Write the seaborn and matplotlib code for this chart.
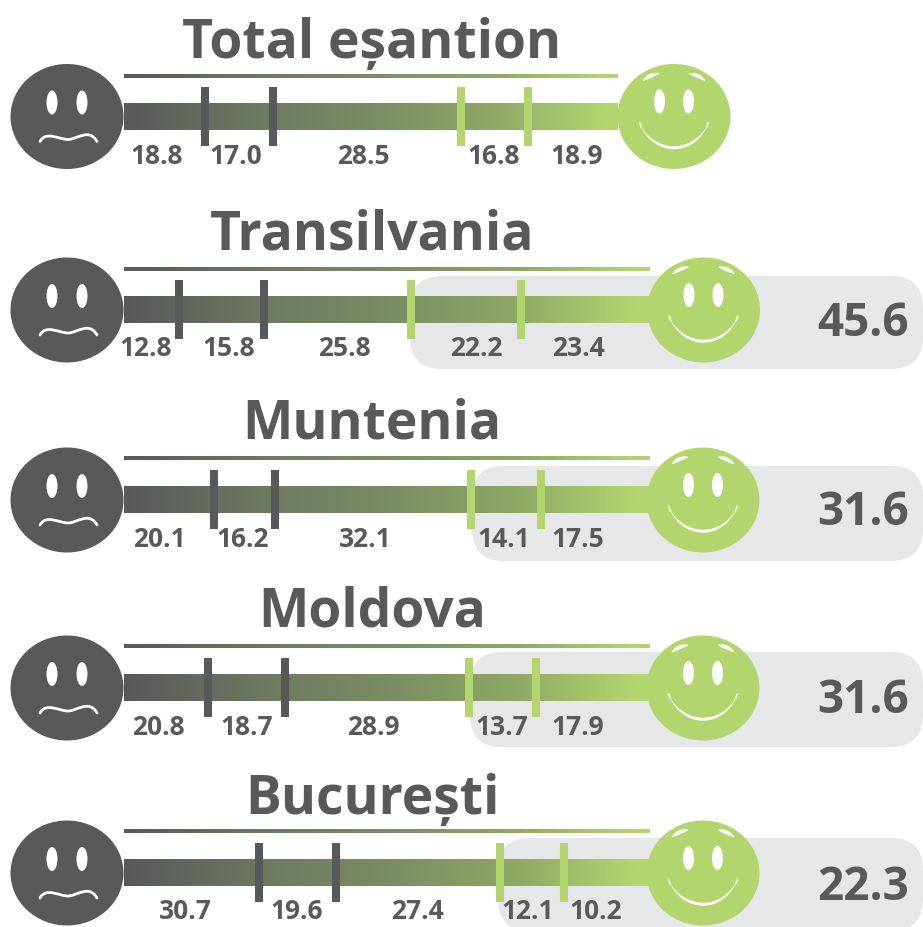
import numpy as np
import matplotlib
matplotlib.use("Agg")
import matplotlib.pyplot as plt
import seaborn as sns
from matplotlib.colors import LinearSegmentedColormap
from matplotlib.patches import Ellipse, FancyBboxPatch, PathPatch
from matplotlib.path import Path
from matplotlib.transforms import blended_transform_factory

# ---- data ----
regions = ["Total eșantion", "Transilvania", "Muntenia", "Moldova", "București"]
segment_values = [
    [18.8, 17.0, 28.5, 16.8, 18.9],
    [12.8, 15.8, 25.8, 22.2, 23.4],
    [20.1, 16.2, 32.1, 14.1, 17.5],
    [20.8, 18.7, 28.9, 13.7, 17.9],
    [30.7, 19.6, 27.4, 12.1, 10.2],
]
top_two_totals = [None, "45.6", "31.6", "31.6", "22.3"]
# Dividers and labels along each bar, on a 0-100 scale of the bar's length
divider_scale = [
    [16.4, 30.2, 68.2, 81.8],
    [10.5, 26.6, 54.6, 75.5],
    [17.1, 28.7, 66.0, 79.3],
    [16.0, 30.6, 65.6, 78.3],
    [25.7, 40.3, 71.5, 83.7],
]
label_scale = [
    [6.7, 22.7, 48.4, 74.9, 91.7],
    [4.2, 20.0, 41.8, 66.9, 86.3],
    [6.7, 22.6, 45.8, 72.2, 86.3],
    [6.5, 23.4, 47.3, 71.9, 86.3],
    [11.6, 32.9, 55.7, 76.8, 89.7],
]

# ---- layout in pixels of the 923x928 picture ----
W, H = 923, 928
BAR_LEFT = 124
bar_right = [618, 650, 650, 650, 650]
title_y = [44, 236, 425, 613, 800]
rule_y = [77, 270, 459, 647, 832]
bar_y = [117.5, 310.5, 500.5, 688.5, 873.5]
face_y = [117.5, 311, 501, 689, 874]
label_y = [156, 349, 540, 728, 912]
box_top = [None, 277, 467, 653, 839]
box_bottom = [None, 370, 562, 748, 932]
box_left = [None, 410, 472, 470, 498]
value_y = [None, 324, 513, 701, 888]
LEFT_FACE_X = 67
right_face_x = [674, 703.5, 703, 703, 703]
FACE_W, FACE_H = 113, 105
DIVIDER_H = 59
BAR_H = 27

DARK = "#58595B"
GREEN = "#B2D56E"
BOX = "#E6E7E8"
ramp = LinearSegmentedColormap.from_list(
    "ramp", [(0, DARK), (0.28, "#6E7B60"), (0.5, "#7A8C63"), (0.75, "#8EA965"), (0.97, GREEN), (1, GREEN)]
)
gradient = np.linspace(0, 1, 256).reshape(1, -1)

sns.set_theme(style="white")
plt.rcParams["font.family"] = ["Open Sans", "DejaVu Sans"]

fig = plt.figure(figsize=(W / 100, H / 100), dpi=100, facecolor="white")


def pixel_axes(zorder):
    a = fig.add_axes([0, 0, 1, 1], zorder=zorder)
    a.set_xlim(0, W)
    a.set_ylim(H, 0)
    a.axis("off")
    a.patch.set_alpha(0)
    return a


def row_axes(left, right, top, bottom, zorder=2):
    a = fig.add_axes([left / W, 1 - bottom / H, (right - left) / W, (bottom - top) / H], zorder=zorder)
    a.patch.set_alpha(0)
    return a


under = pixel_axes(1)
over = pixel_axes(3)


def sad_face(a, cx, cy):
    a.add_patch(Ellipse((cx, cy), FACE_W, FACE_H, fc=DARK, ec="none"))
    for dx in (-15, 15):
        a.add_patch(Ellipse((cx + dx, cy - 14), 11, 24, fc="white", ec="none"))
    verts = [(cx - 27, cy + 25), (cx - 21, cy + 14), (cx - 8, cy + 23), (cx + 1, cy + 23),
             (cx + 10, cy + 23), (cx + 22, cy + 11), (cx + 30, cy + 25)]
    codes = [Path.MOVETO] + [Path.CURVE4] * 6
    a.add_patch(PathPatch(Path(verts, codes), fc="none", ec="white", lw=2.0, capstyle="round"))


def happy_face(a, cx, cy):
    a.add_patch(Ellipse((cx, cy), FACE_W, FACE_H, fc=GREEN, ec="none"))
    for dx in (-14.5, 14.5):
        a.add_patch(Ellipse((cx + dx, cy - 15), 11, 24, fc="white", ec="none"))
    # mouth: thin crescent
    outer = [(cx - 34, cy + 8), (cx - 20, cy + 41), (cx + 20, cy + 41), (cx + 34, cy + 8)]
    inner = [(cx + 34, cy + 8), (cx + 18, cy + 37), (cx - 18, cy + 37), (cx - 34, cy + 8)]
    verts = outer + inner[1:] + [outer[0]]
    codes = [Path.MOVETO] + [Path.CURVE4] * 6 + [Path.CLOSEPOLY]
    a.add_patch(PathPatch(Path(verts, codes), fc="white", ec="none"))
    for sx in (-1, 1):
        a.plot([cx + sx * 32.5, cx + sx * 34.5], [cy + 11, cy + 6], color="white", lw=1.1)
        # highlights
        hv = [(cx + sx * 31, cy - 36), (cx + sx * 27, cy - 43), (cx + sx * 20, cy - 44), (cx + sx * 15, cy - 43),
              (cx + sx * 20, cy - 40), (cx + sx * 25, cy - 38), (cx + sx * 31, cy - 36), (cx + sx * 31, cy - 36)]
        hc = [Path.MOVETO] + [Path.CURVE4] * 6 + [Path.CLOSEPOLY]
        a.add_patch(PathPatch(Path(hv, hc), fc="white", ec="white", lw=0.4))


for i, region in enumerate(regions):
    x1 = bar_right[i]
    yc = bar_y[i]

    # title
    over.text(372, title_y[i], region, ha="center", va="center",
              fontsize=38.5, fontweight="bold", color=DARK)

    # gradient rule under the title
    rule_ax = row_axes(BAR_LEFT, x1, rule_y[i] - 2, rule_y[i] + 2)
    rule_ax.imshow(gradient, aspect="auto", cmap=ramp, extent=(0, 100, -0.5, 0.5))
    rule_ax.axis("off")

    # grey box with the top-two total
    if box_left[i] is not None:
        under.add_patch(FancyBboxPatch((box_left[i] + 32, box_top[i] + 32),
                                       W - box_left[i] - 64, box_bottom[i] - box_top[i] - 64,
                                       boxstyle="round,pad=32,rounding_size=32", fc=BOX, ec="none"))
        over.text(863, value_y[i], top_two_totals[i], ha="center", va="center",
                  fontsize=33, fontweight="bold", color=DARK)

    # gradient bar on the 0-100 scale, with dividers
    ax = row_axes(BAR_LEFT, x1, yc - DIVIDER_H / 2, yc + DIVIDER_H / 2)
    sns.barplot(x=[100], y=[region], orient="h", width=BAR_H / DIVIDER_H, color=DARK, ax=ax)
    bar = ax.patches[0]
    bar.set_facecolor("none")
    bar.set_edgecolor("none")
    img = ax.imshow(gradient, aspect="auto", cmap=ramp, zorder=2,
                    extent=(0, 100, -BAR_H / DIVIDER_H / 2, BAR_H / DIVIDER_H / 2))
    img.set_clip_path(bar)
    ax.vlines(divider_scale[i], -0.5, 0.5, colors=[DARK, DARK, GREEN, GREEN], lw=5.8, zorder=3)
    ax.set_xlim(0, 100)
    ax.set_ylim(0.5, -0.5)
    ax.axis("off")

    # value labels
    trans = blended_transform_factory(ax.transData, over.transData)
    for pos, value in zip(label_scale[i], segment_values[i]):
        ax.text(pos, label_y[i], f"{value:.1f}", transform=trans, ha="center", va="center",
                fontsize=19, fontweight="bold", color=DARK, clip_on=False)

    sad_face(over, LEFT_FACE_X, face_y[i])
    happy_face(over, right_face_x[i], face_y[i])

fig.savefig("out.png", dpi=100, facecolor="white")
